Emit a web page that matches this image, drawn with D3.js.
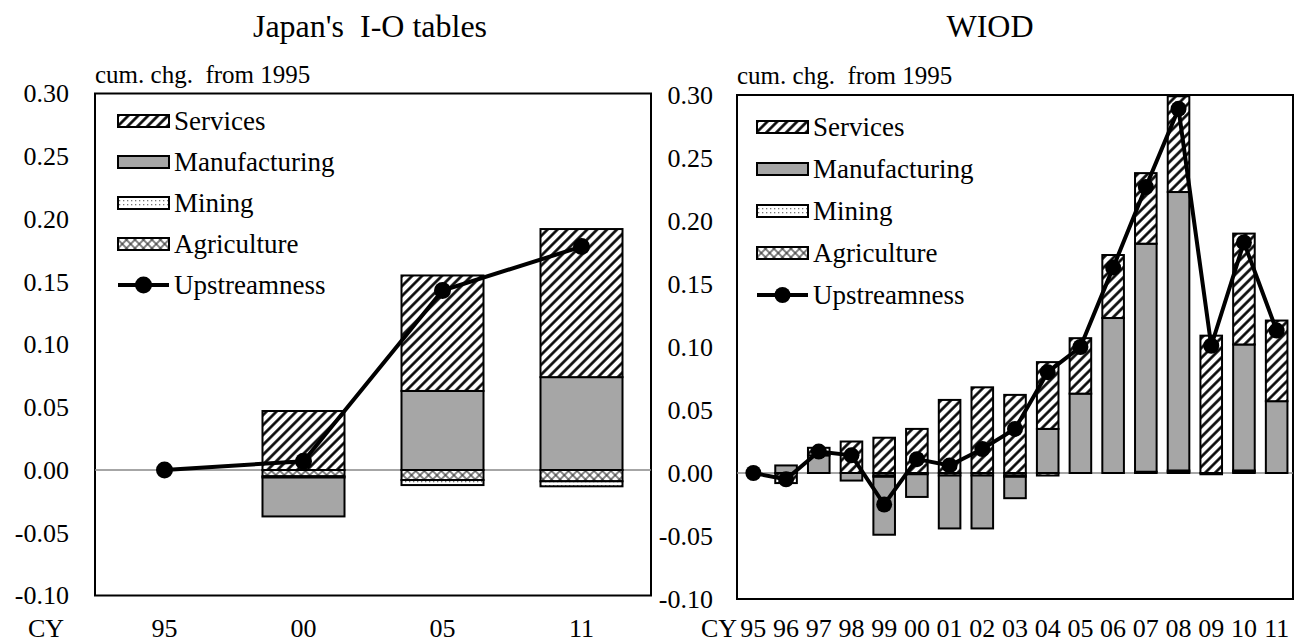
<!DOCTYPE html>
<html>
<head>
<meta charset="utf-8">
<script src="https://cdn.jsdelivr.net/npm/d3@7"></script>
<style>
body { margin: 0; background: #fff; }
</style>
</head>
<body>
<script>
// Japan's I-O tables (cum. chg. from 1995)
var ioYears         = ["95", "00", "05", "11"];
var ioAgriculture   = [0, -0.005, -0.008, -0.009];
var ioMining        = [0, -0.001, -0.004, -0.004];
var ioManufacturing = [0, -0.031, 0.063, 0.074];
var ioServices      = [0, 0.047, 0.092, 0.118];
var ioUpstreamness  = [0, 0.007, 0.143, 0.178];

// WIOD (cum. chg. from 1995)
var wiodYears         = ["95","96","97","98","99","00","01","02","03","04","05","06","07","08","09","10","11"];
var wiodAgriculture   = [0, 0, 0, 0, -0.002, -0.001, -0.002, -0.002, -0.002, -0.002, 0, 0, 0.001, 0.001, 0, 0.001, 0];
var wiodMining        = [0, 0, 0, 0, -0.001, 0, 0, 0, -0.001, 0, 0, 0, 0, 0.001, 0, 0.001, 0];
var wiodManufacturing = [0, 0.006, 0.014, -0.006, -0.046, -0.018, -0.042, -0.042, -0.017, 0.035, 0.063, 0.123, 0.181, 0.221, -0.001, 0.100, 0.057];
var wiodServices      = [0, -0.008, 0.006, 0.025, 0.028, 0.035, 0.058, 0.068, 0.062, 0.053, 0.044, 0.050, 0.056, 0.076, 0.109, 0.088, 0.064];
var wiodUpstreamness  = [0, -0.005, 0.017, 0.014, -0.025, 0.011, 0.006, 0.019, 0.035, 0.080, 0.100, 0.163, 0.227, 0.289, 0.101, 0.183, 0.113];

var yTicks = [0.30, 0.25, 0.20, 0.15, 0.10, 0.05, 0.00, -0.05, -0.10];
var sectors = ["Agriculture", "Mining", "Manufacturing", "Services"];
var legendItems = ["Services", "Manufacturing", "Mining", "Agriculture", "Upstreamness"];

var serif = "'Liberation Serif', 'Times New Roman', Times, 'DejaVu Serif', serif";

var fills = {
  Services: "url(#hatch)",
  Manufacturing: "#a6a6a6",
  Mining: "url(#dots)",
  Agriculture: "url(#cross)"
};

var svg = d3.select("body").append("svg")
  .attr("width", 1304)
  .attr("height", 644)
  .style("font-family", serif);

// patterns
var defs = svg.append("defs");
var hatch = defs.append("pattern").attr("id", "hatch")
  .attr("patternUnits", "userSpaceOnUse")
  .attr("width", 7).attr("height", 7)
  .attr("patternTransform", "rotate(45)");
hatch.append("rect").attr("width", 7).attr("height", 7).attr("fill", "#fff");
hatch.append("line").attr("x1", 3.5).attr("y1", 0).attr("x2", 3.5).attr("y2", 7)
  .attr("stroke", "#000").attr("stroke-width", 2.6);

var cross = defs.append("pattern").attr("id", "cross")
  .attr("patternUnits", "userSpaceOnUse")
  .attr("width", 6).attr("height", 6)
  .attr("patternTransform", "rotate(45)");
cross.append("rect").attr("width", 6).attr("height", 6).attr("fill", "#fff");
cross.append("line").attr("x1", 3).attr("y1", 0).attr("x2", 3).attr("y2", 6)
  .attr("stroke", "#333").attr("stroke-width", 1.2);
cross.append("line").attr("x1", 0).attr("y1", 3).attr("x2", 6).attr("y2", 3)
  .attr("stroke", "#333").attr("stroke-width", 1.2);

var dots = defs.append("pattern").attr("id", "dots")
  .attr("patternUnits", "userSpaceOnUse")
  .attr("width", 4).attr("height", 4);
dots.append("rect").attr("width", 4).attr("height", 4).attr("fill", "#fff");
dots.append("rect").attr("x", 1).attr("y", 1).attr("width", 1.3).attr("height", 1.3).attr("fill", "#777");

function drawPanel(p) {
  var g = svg.append("g");

  var x = d3.scaleBand().domain(p.years).range([p.left, p.right]);
  var y = d3.scaleLinear().domain([-0.10, 0.30]).range([p.bottom, p.top]);
  var barW = x.bandwidth() * p.barRatio;
  var cx = function(d) { return x(d) + x.bandwidth() / 2; };

  var rows = p.years.map(function(yr, i) {
    return {year: yr, Agriculture: p.agr[i], Mining: p.min[i], Manufacturing: p.man[i], Services: p.ser[i]};
  });
  var series = d3.stack().keys(sectors).offset(d3.stackOffsetDiverging)(rows);

  // frame
  g.append("rect")
    .attr("x", p.left).attr("y", p.top)
    .attr("width", p.right - p.left).attr("height", p.bottom - p.top)
    .attr("fill", "#fff").attr("stroke", "#000").attr("stroke-width", 2);

  // zero line
  g.append("line")
    .attr("x1", p.left).attr("x2", p.right)
    .attr("y1", y(0)).attr("y2", y(0))
    .attr("stroke", "#888").attr("stroke-width", 1.5);

  // stacked bars
  g.selectAll(".layer").data(series).enter().append("g")
    .attr("class", "layer")
    .attr("fill", function(s) { return fills[s.key]; })
    .selectAll("rect")
    .data(function(s) { return s.filter(function(d) { return d[1] - d[0] !== 0; }); })
    .enter().append("rect")
    .attr("x", function(d) { return cx(d.data.year) - barW / 2; })
    .attr("width", barW)
    .attr("y", function(d) { return y(Math.max(d[0], d[1])); })
    .attr("height", function(d) { return Math.abs(y(d[0]) - y(d[1])); })
    .attr("stroke", "#000").attr("stroke-width", 2);

  // upstreamness line
  var line = d3.line()
    .x(function(d, i) { return cx(p.years[i]); })
    .y(function(d) { return y(d); });
  g.append("path").datum(p.ups)
    .attr("d", line)
    .attr("fill", "none").attr("stroke", "#000").attr("stroke-width", 4);
  g.selectAll(".dot").data(p.ups).enter().append("circle")
    .attr("class", "dot")
    .attr("cx", function(d, i) { return cx(p.years[i]); })
    .attr("cy", function(d) { return y(d); })
    .attr("r", p.dotR).attr("fill", "#000");

  // y axis labels
  var yAxis = g.append("g")
    .attr("transform", "translate(" + p.labelX + ",0)")
    .call(d3.axisLeft(y).tickValues(yTicks).tickSize(0).tickPadding(0)
      .tickFormat(function(d) { return d.toFixed(2); }));
  yAxis.select(".domain").remove();
  yAxis.attr("font-family", null).attr("font-size", null);
  yAxis.selectAll("text").style("font-size", "26px");

  // x axis labels
  var xAxis = g.append("g")
    .attr("transform", "translate(0," + 619 + ")")
    .call(d3.axisBottom(x).tickSize(0).tickPadding(0));
  xAxis.select(".domain").remove();
  xAxis.attr("font-family", null).attr("font-size", null);
  xAxis.selectAll("text").style("font-size", "26px");
  g.append("text")
    .attr("x", p.cyX).attr("y", 637)
    .attr("text-anchor", "middle")
    .style("font-size", "26px")
    .text("CY");

  // titles
  g.append("text")
    .attr("x", p.titleX).attr("y", 37)
    .attr("text-anchor", "middle")
    .style("font-size", "32px")
    .style("white-space", "pre")
    .text(p.title);
  g.append("text")
    .attr("x", p.left).attr("y", p.top - 11)
    .style("font-size", "25px")
    .style("white-space", "pre")
    .text("cum. chg.  from 1995");

  // legend
  var leg = g.append("g").selectAll("g").data(legendItems).enter().append("g")
    .attr("transform", function(d, i) { return "translate(" + p.legX + "," + (p.legY + i * p.legStep) + ")"; });
  leg.filter(function(d) { return d !== "Upstreamness"; })
    .append("rect")
    .attr("x", 0).attr("y", -6).attr("width", 51).attr("height", 12)
    .attr("fill", function(d) { return fills[d]; })
    .attr("stroke", "#000").attr("stroke-width", 2);
  var upLeg = leg.filter(function(d) { return d === "Upstreamness"; });
  upLeg.append("line").attr("x1", 0).attr("x2", 51).attr("y1", 0).attr("y2", 0)
    .attr("stroke", "#000").attr("stroke-width", 4);
  upLeg.append("circle").attr("cx", 25.5).attr("cy", 0).attr("r", p.dotR).attr("fill", "#000");
  leg.append("text")
    .attr("x", 56).attr("y", 0).attr("dy", "0.35em")
    .style("font-size", "27px")
    .text(function(d) { return d; });
}

drawPanel({
  title: "Japan's  I-O tables", titleX: 370,
  years: ioYears, agr: ioAgriculture, min: ioMining, man: ioManufacturing, ser: ioServices, ups: ioUpstreamness,
  left: 95, right: 651, top: 93.5, bottom: 595.5,
  barRatio: 0.59, dotR: 8.5, labelX: 69, cyX: 46,
  legX: 118, legY: 121, legStep: 41
});

drawPanel({
  title: "WIOD", titleX: 990,
  years: wiodYears, agr: wiodAgriculture, min: wiodMining, man: wiodManufacturing, ser: wiodServices, ups: wiodUpstreamness,
  left: 737, right: 1293, top: 95, bottom: 599,
  barRatio: 0.66, dotR: 8, labelX: 713, cyX: 719,
  legX: 757, legY: 127, legStep: 42
});

svg.selectAll("text").style("font-family", serif).attr("fill", "#000");
</script>
</body>
</html>
